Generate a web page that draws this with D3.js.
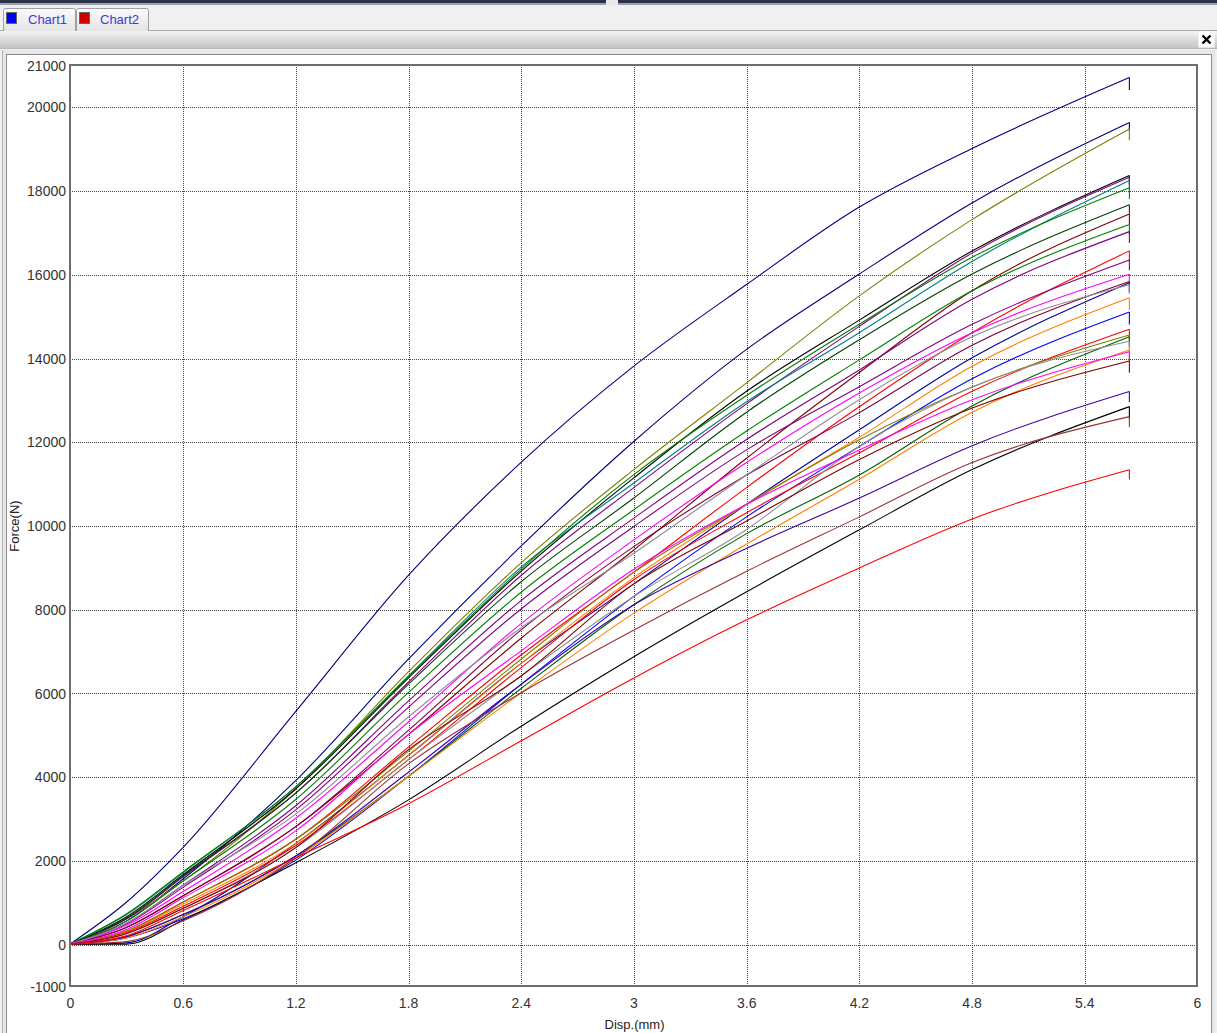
<!DOCTYPE html>
<html>
<head>
<meta charset="utf-8">
<script src="https://cdn.jsdelivr.net/npm/d3@7"></script>
<style>
  body { margin: 0; background: #eeeeee; overflow: hidden; }
  svg { display: block; font-family: "Liberation Sans", Arial, sans-serif; }
  .axis text { fill: #333; font-size: 14px; }
  .axis .domain { display: none; }
  .grid line { stroke: #444; stroke-dasharray: 1,1; shape-rendering: crispEdges; }
  .grid .domain, .grid text { display: none; }
  .curve { fill: none; stroke-width: 1.1; }
</style>
</head>
<body>
<svg id="chart"></svg>
<script>
const dispPoints = [0, 0.3, 0.6, 1.2, 1.8, 2.4, 3.0, 3.6, 4.2, 4.8, 5.64];

// force (N) per specimen at the displacements above
const forceCurves = [
    [0, 1000, 2300, 5550, 8800, 11500, 13800, 15750, 17600, 19000, 20700],
    [0, 550, 1550, 3900, 6800, 9500, 12000, 14200, 16000, 17700, 19625],
    [0, 600, 1500, 3700, 6500, 9100, 11330, 13400, 15480, 17300, 19470],
    [0, 650, 1650, 3700, 6350, 8900, 11130, 13200, 14900, 16550, 18360],
    [0, 600, 1600, 3600, 6250, 8800, 10900, 12900, 14750, 16500, 18320],
    [0, 700, 1700, 3750, 6400, 9000, 11010, 12950, 14600, 16300, 18240],
    [0, 720, 1720, 3750, 6380, 8950, 11210, 13100, 14800, 16400, 18070],
    [0, 620, 1620, 3600, 6200, 8650, 10650, 12700, 14430, 16000, 17660],
    [0, 400, 1150, 2800, 5000, 7300, 9410, 11600, 13650, 15600, 17440],
    [0, 550, 1500, 3450, 6000, 8400, 10370, 12250, 13950, 15600, 17190],
    [0, 500, 1400, 3300, 5800, 8200, 10170, 12050, 13710, 15400, 17020],
    [0, 300, 1000, 2500, 4700, 6900, 8880, 10900, 12830, 14600, 16560],
    [0, 480, 1350, 3200, 5650, 8000, 9970, 11800, 13310, 14800, 16340],
    [0, 450, 1250, 3000, 5300, 7650, 9650, 11500, 13160, 14600, 16000],
    [0, 30, 650, 2400, 4500, 6700, 8600, 10500, 12280, 14000, 15800],
    [0, 400, 1150, 2800, 5100, 7500, 9490, 11200, 12690, 14300, 15830],
    [0, 500, 1400, 3100, 5420, 7550, 9330, 11200, 13000, 14500, 15750],
    [0, 300, 950, 2400, 4500, 6700, 8750, 10500, 12100, 13800, 15440],
    [0, 150, 600, 2000, 4000, 6200, 8300, 10200, 11880, 13500, 15100],
    [0, 280, 900, 2350, 4400, 6600, 8700, 10300, 11730, 13200, 14690],
    [0, 320, 1000, 2500, 4600, 6800, 8880, 10500, 12040, 13300, 14550],
    [0, 180, 700, 2100, 4000, 6100, 8100, 9800, 11200, 12850, 14510],
    [0, 250, 850, 2300, 4400, 6400, 8300, 9900, 11880, 13300, 14400],
    [0, 150, 650, 2050, 4000, 6000, 7900, 9550, 11100, 12700, 14190],
    [0, 350, 1100, 2700, 5000, 7000, 8950, 10500, 11800, 13000, 14150],
    [0, 250, 850, 2300, 4640, 6400, 8600, 10100, 11570, 12800, 13930],
    [0, 180, 700, 2100, 4100, 6200, 8100, 9450, 10650, 11900, 13200],
    [0, 0, 570, 1940, 3440, 5200, 6860, 8410, 9890, 11330, 12840],
    [0, 60, 550, 2050, 4300, 6000, 7500, 8900, 10200, 11500, 12600],
    [0, 200, 800, 2060, 3350, 4850, 6350, 7740, 8980, 10150, 11330]
];

// force right after break (the short drop at the end of each curve)
const breakForces = [20400, 19420, 19200, 18150, 18100, 18000, 17800, 17450, 17200, 16950,
    16750, 16300, 16100, 15750, 15550, 15600, 15550, 15150, 14800, 14450,
    14300, 14250, 14150, 13900, 13900, 13650, 12950, 12550, 12350, 11100];

const curveColors = ['#000080', '#000080', '#808000', '#000000', '#800080', '#008080', '#008000', '#004000', '#800000', '#008000',
    '#800080', '#ff0000', '#800080', '#ff00ff', '#0000a0', '#800040', '#909090', '#ff8000', '#0000ff', '#ff0000',
    '#808000', '#006000', '#909090', '#ff8000', '#ff00ff', '#800000', '#4000a0', '#000000', '#993333', '#ff0000'];

const yTicks = [-1000, 0, 2000, 4000, 6000, 8000, 10000, 12000, 14000, 16000, 18000, 20000, 21000];
const yGrid = [0, 2000, 4000, 6000, 8000, 10000, 12000, 14000, 16000, 18000, 20000];
const xTicks = [0, 0.6, 1.2, 1.8, 2.4, 3, 3.6, 4.2, 4.8, 5.4, 6];
const xGrid = [0.6, 1.2, 1.8, 2.4, 3, 3.6, 4.2, 4.8, 5.4];

const tabNames = ['Chart1', 'Chart2'];
const tabIcons = ['#0000ff', '#cc0000'];

const fullWidth = 1217;
const fullHeight = 1033;
const plot = {left: 70, top: 65, right: 1197, bottom: 986};

const svg = d3.select('#chart')
    .attr('width', fullWidth)
    .attr('height', fullHeight);

const defs = svg.append('defs');

const tabGrad = defs.append('linearGradient')
    .attr('id', 'tab-grad').attr('x1', 0).attr('x2', 0).attr('y1', 0).attr('y2', 1);
tabGrad.append('stop').attr('offset', '0%').attr('stop-color', '#fafafa');
tabGrad.append('stop').attr('offset', '100%').attr('stop-color', '#e4e4e4');

const barGrad = defs.append('linearGradient')
    .attr('id', 'bar-grad').attr('x1', 0).attr('x2', 0).attr('y1', 0).attr('y2', 1);
barGrad.append('stop').attr('offset', '0%').attr('stop-color', '#f6f6f6');
barGrad.append('stop').attr('offset', '100%').attr('stop-color', '#c4c4c4');

// --- window chrome ---
svg.append('rect').attr('x', 0).attr('y', 0).attr('width', fullWidth).attr('height', fullHeight).attr('fill', '#f0f0f0');
svg.append('rect').attr('x', 0).attr('y', 0).attr('width', fullWidth).attr('height', 3).attr('fill', '#2e3448');
svg.append('rect').attr('x', 0).attr('y', 3).attr('width', fullWidth).attr('height', 2).attr('fill', '#9aa0b0');
svg.append('rect').attr('x', 606).attr('y', 0).attr('width', 12).attr('height', 5).attr('fill', '#e8e8e8');

// toolbar strip
svg.append('rect').attr('x', 0).attr('y', 30).attr('width', fullWidth).attr('height', 18)
    .attr('fill', 'url(#bar-grad)');
svg.append('line').attr('x1', 0).attr('x2', fullWidth).attr('y1', 30.5).attr('y2', 30.5).attr('stroke', '#a8a8a8');
svg.append('line').attr('x1', 0).attr('x2', fullWidth).attr('y1', 48.5).attr('y2', 48.5).attr('stroke', '#b8b8b8');

// tabs
const tab = svg.selectAll('.tab').data(tabNames).enter().append('g')
    .attr('class', 'tab')
    .attr('transform', (d, i) => `translate(${3 + i * 73}, 8)`);
tab.append('path')
    .attr('d', 'M0.5,23 V2.5 Q0.5,0.5 2.5,0.5 H70.5 Q72.5,0.5 72.5,2.5 V23')
    .attr('fill', 'url(#tab-grad)')
    .attr('stroke', '#a0a0a0');
tab.append('rect')
    .attr('x', 3.5).attr('y', 4.5).attr('width', 10).attr('height', 11)
    .attr('fill', (d, i) => tabIcons[i])
    .attr('stroke', '#666');
tab.append('text')
    .attr('x', (d, i) => i === 0 ? 25 : 24)
    .attr('y', 16)
    .attr('font-size', 13)
    .attr('fill', '#3a3ad6')
    .text(d => d);

// close button
svg.append('rect').attr('x', 1198.5).attr('y', 31.5).attr('width', 16).attr('height', 16).attr('fill', '#fff');
svg.append('path')
    .attr('d', 'M1202.5,35.5 L1210.5,43.5 M1210.5,35.5 L1202.5,43.5')
    .attr('stroke', '#000').attr('stroke-width', 2.4);

// chart panel
svg.append('rect').attr('x', 2).attr('y', 50).attr('width', 1213).attr('height', 983).attr('fill', '#e6e6e6');
svg.append('rect').attr('x', 6.5).attr('y', 54.5).attr('width', 1205).attr('height', 980)
    .attr('fill', '#fff').attr('stroke', '#8a8a8a');
svg.append('line').attr('x1', 2.5).attr('x2', 2.5).attr('y1', 50).attr('y2', fullHeight).attr('stroke', '#b0b0b0');

// --- chart ---
const x = d3.scaleLinear().domain([0, 6]).range([plot.left, plot.right]);
const y = d3.scaleLinear().domain([-1000, 21000]).range([plot.bottom, plot.top]);

const g = svg.append('g');

g.append('g')
    .attr('class', 'grid')
    .attr('transform', `translate(${plot.left}, 0)`)
    .call(d3.axisLeft(y).tickValues(yGrid).tickSize(-(plot.right - plot.left)))
    .selectAll('line').attr('transform', 'translate(0, 0.5)');

g.append('g')
    .attr('class', 'grid')
    .attr('transform', `translate(0, ${plot.bottom})`)
    .call(d3.axisBottom(x).tickValues(xGrid).tickSize(-(plot.bottom - plot.top)))
    .selectAll('line').attr('transform', 'translate(0.5, 0)');

g.append('g')
    .attr('class', 'axis')
    .attr('transform', `translate(${plot.left - 4}, 0)`)
    .call(d3.axisLeft(y).tickValues(yTicks).tickSize(0).tickPadding(0).tickFormat(d => String(d)))
    .selectAll('text').attr('dy', '0.36em');

g.append('g')
    .attr('class', 'axis')
    .attr('transform', `translate(0, ${plot.bottom})`)
    .call(d3.axisBottom(x).tickValues(xTicks).tickSize(0).tickPadding(12).tickFormat(d => String(d)));

const clipId = 'plot-clip';
defs.append('clipPath').attr('id', clipId)
    .append('rect')
    .attr('x', plot.left).attr('y', plot.top)
    .attr('width', plot.right - plot.left).attr('height', plot.bottom - plot.top);

const line = d3.line()
    .x(d => x(d[0]))
    .y(d => y(d[1]))
    .curve(d3.curveMonotoneX);

const curves = g.append('g').attr('clip-path', `url(#${clipId})`);

const curve = curves.selectAll('.specimen')
    .data(forceCurves)
    .enter().append('g')
    .attr('class', 'specimen');

curve.append('path')
    .attr('class', 'curve')
    .attr('stroke', (d, i) => curveColors[i])
    .attr('d', d => line(d.map((f, j) => [dispPoints[j], f])));

// vertical drop at break
curve.append('line')
    .attr('stroke', (d, i) => curveColors[i])
    .attr('stroke-width', 1.1)
    .attr('x1', x(dispPoints[dispPoints.length - 1]))
    .attr('x2', x(dispPoints[dispPoints.length - 1]))
    .attr('y1', d => y(d[d.length - 1]))
    .attr('y2', (d, i) => y(breakForces[i]));

// frame
g.append('rect')
    .attr('x', plot.left).attr('y', plot.top)
    .attr('width', plot.right - plot.left).attr('height', plot.bottom - plot.top)
    .attr('fill', 'none').attr('stroke', '#6e6e6e').attr('stroke-width', 2);

// axis titles
g.append('text')
    .attr('x', (plot.left + plot.right) / 2 + 1)
    .attr('y', 1029)
    .attr('text-anchor', 'middle')
    .attr('font-size', 13)
    .attr('fill', '#222')
    .text('Disp.(mm)');

g.append('text')
    .attr('transform', 'translate(19, 526) rotate(-90)')
    .attr('text-anchor', 'middle')
    .attr('font-size', 13)
    .attr('fill', '#222')
    .text('Force(N)');
</script>
</body>
</html>
